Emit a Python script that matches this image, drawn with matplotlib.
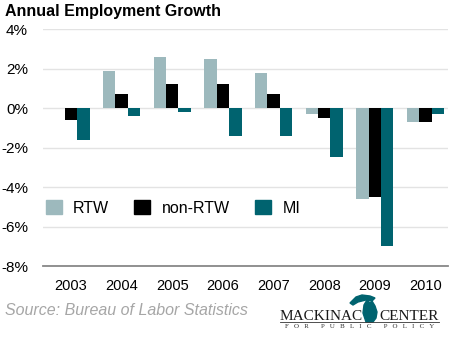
import numpy as np
import matplotlib.pyplot as plt
from matplotlib.patches import Patch, Polygon

plt.rcParams["font.family"] = ["Liberation Sans", "DejaVu Sans"]

years = ["2003", "2004", "2005", "2006", "2007", "2008", "2009", "2010"]
rtw = [0.0, 1.9, 2.6, 2.5, 1.8, -0.3, -4.6, -0.7]
non_rtw = [-0.6, 0.7, 1.2, 1.2, 0.7, -0.5, -4.5, -0.7]
mi = [-1.6, -0.4, -0.2, -1.4, -1.4, -2.5, -7.0, -0.3]
yticks = [4, 2, 0, -2, -4, -6, -8]

c_rtw = "#9db9bd"
c_non = "#000000"
c_mi = "#00636f"

fig = plt.figure(figsize=(4.5, 3.38), dpi=100)
ax = fig.add_axes([0.096, 0.213, 0.9, 0.701])

x = np.arange(len(years))
w = 0.245
ax.bar(x - w, rtw, w, color=c_rtw, zorder=3)
ax.bar(x, non_rtw, w, color=c_non, zorder=3)
ax.bar(x + w, mi, w, color=c_mi, zorder=3)

ax.set_xlim(-0.55, 7.45)
ax.set_ylim(-8, 4)
ax.set_yticks(yticks)
ax.set_yticklabels([f"{v}%" for v in yticks], fontsize=11)
ax.set_xticks(x)
ax.set_xticklabels(years, fontsize=10.5)
ax.tick_params(length=0)
ax.tick_params(axis="y", pad=11)
ax.tick_params(axis="x", pad=9)
ax.grid(axis="y", color="#e3e3e3", linewidth=1, zorder=0)
for s in ["left", "right", "top"]:
    ax.spines[s].set_visible(False)
ax.spines["bottom"].set_color("#888888")
ax.spines["bottom"].set_linewidth(1.3)

handles = [Patch(color=c_rtw, label="RTW"), Patch(color=c_non, label="non-RTW"),
           Patch(color=c_mi, label="MI")]
ax.legend(handles=handles, ncol=3, frameon=False, fontsize=11.5, loc="center left",
          bbox_to_anchor=(-0.01, 0.245), handlelength=1.0, handleheight=1.0,
          handletextpad=0.7, columnspacing=1.6, borderaxespad=0)

fig.text(0.012, 0.965, "Annual Employment Growth", fontsize=11.5, fontweight="bold",
         va="center", ha="left")
fig.text(0.012, 0.08, "Source: Bureau of Labor Statistics", fontsize=11.5, style="italic",
         color="#a6a6a6", va="center", ha="left")

# logo
W, H = 450.0, 338.0
def px(pts):
    return [(a / W, 1 - b / H) for a, b in pts]

fig.text(280 / W, 1 - 320 / H, "MACKINAC", fontsize=11, family="Liberation Serif",
         color="#1a1a1a", va="baseline", ha="left")
fig.text(439 / W, 1 - 320 / H, "CENTER", fontsize=11, family="Liberation Serif",
         color="#1a1a1a", va="baseline", ha="right")
lower = [(366, 322), (363, 313), (364, 305), (367, 300), (370, 303), (372, 301),
         (375, 306), (377, 312), (376, 318), (373, 322)]
upper = [(350, 303), (356, 297), (362, 295), (370, 296), (375, 298), (372, 301),
         (366, 300), (358, 302), (353, 305)]
fig.add_artist(Polygon(px(lower), closed=True, transform=fig.transFigure, color=c_mi))
fig.add_artist(Polygon(px(upper), closed=True, transform=fig.transFigure, color=c_mi))
fig.add_artist(plt.Line2D([280 / W, 439 / W], [1 - 322 / H, 1 - 322 / H],
                          color="#333333", linewidth=0.6))
fig.text(360 / W, 1 - 327 / H, "F   O   R       P   U   B   L   I   C       P   O   L   I   C   Y",
         fontsize=5, family="Liberation Serif", color="#333333", va="center", ha="center")

fig.savefig("out.png", dpi=100)
